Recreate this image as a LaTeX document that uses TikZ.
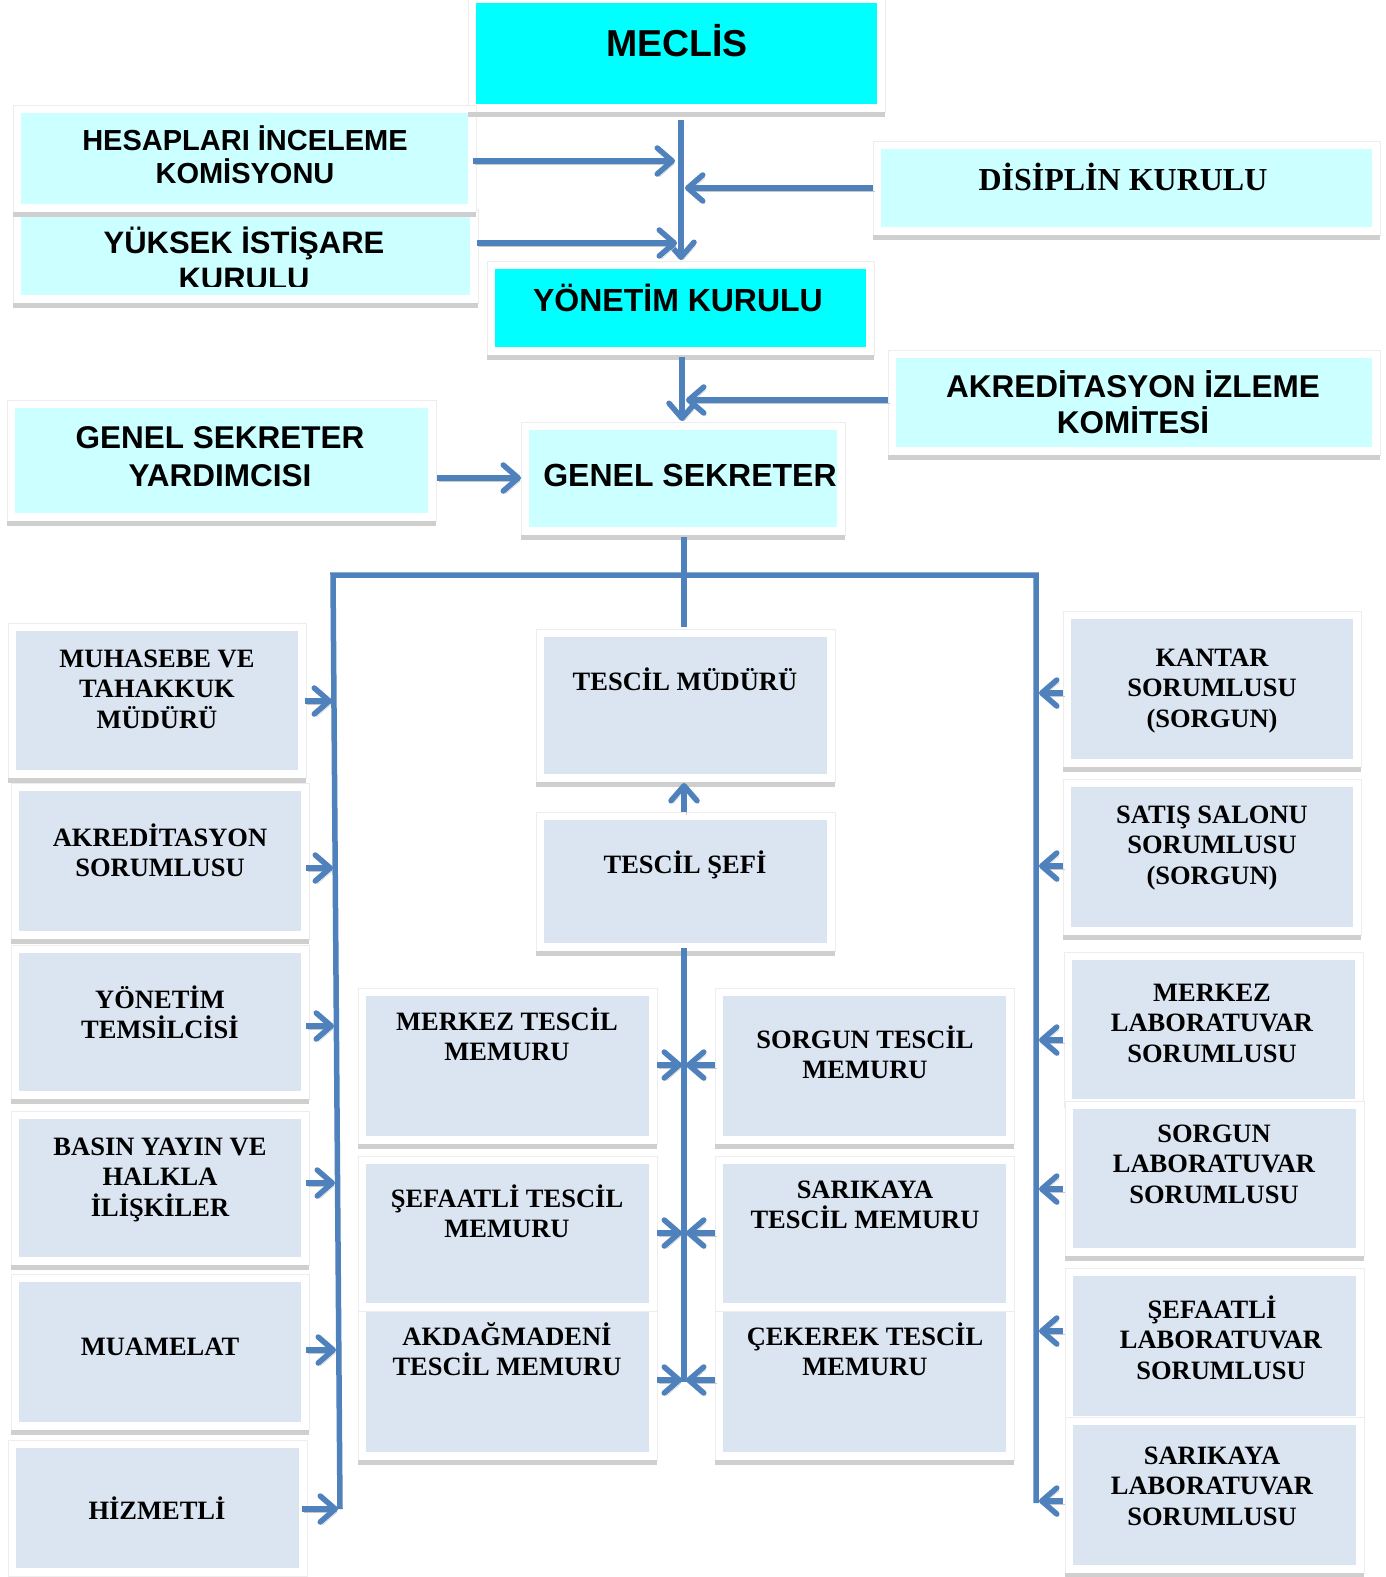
\documentclass[tikz,border=0pt]{standalone}
\usepackage{fontspec}
\setmainfont{Liberation Serif}
\newfontfamily\hsans{Liberation Sans}
\usetikzlibrary{arrows.meta,calc}
\definecolor{cyanb}{HTML}{00FFFF}
\definecolor{lcyan}{HTML}{CCFFFF}
\definecolor{lblue}{HTML}{DBE5F1}
\definecolor{lineblue}{HTML}{4F81BD}
\definecolor{shad}{HTML}{CFCFCF}
\definecolor{framec}{HTML}{EDEDED}
\pgfdeclarelayer{bg}
\pgfdeclarelayer{frames}
\pgfdeclarelayer{shadows}
\pgfsetlayers{bg,frames,shadows,main}
\newcommand{\tl}[1]{\vtop{\halign{\hfil##\hfil\cr#1\crcr}}}
% name, x1, y1, x2, y2, fill, shadow(1/0)
\newcommand{\obox}[7]{%
  \begin{pgfonlayer}{frames}
    \filldraw[draw=framec,fill=white,line width=1pt] (#2-8,#3-8) rectangle (#4+8,#5+8);
  \end{pgfonlayer}
  \ifnum#7=1
  \begin{pgfonlayer}{shadows}
    \fill[shad] (#2-8,#5+8) rectangle (#4+8,#5+13);
  \end{pgfonlayer}
  \fi
  \node[fill=#6,inner sep=0pt,outer sep=0pt,minimum width={(#4-#2)*1pt},minimum height={(#5-#3)*1pt}] (#1) at ({(#2+#4)/2},{(#3+#5)/2}) {};}
\tikzset{
  conn/.style={line width=5.5pt, draw=lineblue, -{Straight Barb[length=15pt,width=26pt,round]},
    preaction={draw=black!22, transform canvas={shift={(2pt,-3pt)}}}},
  trunk/.style={line width=5.5pt, draw=lineblue},
  stxt/.style n args={2}{anchor=base, inner sep=0pt, font=\hsans\bfseries\fontsize{#1}{#2}\selectfont},
  ttxt/.style={anchor=base, inner sep=0pt, font=\bfseries\fontsize{26.5}{30.5}\selectfont},
}
\begin{document}
\begin{tikzpicture}[x=1pt,y=-1pt]
\begin{pgfonlayer}{bg}
\fill[white] (0,0) rectangle (1386,1577);
\end{pgfonlayer}
\useasboundingbox (0,0) rectangle (1386,1577);

% ---------- top boxes
\obox{MEC}{476}{3}{877}{104}{cyanb}{1}
\obox{YUK}{21}{217}{470}{295}{lcyan}{1}
\obox{HES}{21}{113}{468}{204}{lcyan}{1}
\obox{DIS}{881}{149}{1372}{227}{lcyan}{1}
\obox{YK}{495}{269}{866}{347}{cyanb}{1}
\obox{AKI}{896}{358}{1372}{447}{lcyan}{1}
\obox{GSY}{15}{408}{428}{513}{lcyan}{1}
\obox{GS}{529}{430}{837}{527}{lcyan}{1}

\node[stxt={37.5}{40}] (MEC-t) at (677,56) {MECLİS};
\node[stxt={29}{33}] (HES-t) at (245,150) {\tl{HESAPLARI İNCELEME\cr KOMİSYONU}};
\begin{scope}
  \clip (21,217) rectangle (470,286);
  \node[stxt={31}{36}] (YUK-t) at (244,253) {\tl{YÜKSEK İSTİŞARE\cr KURULU}};
\end{scope}
\node[anchor=base,inner sep=0pt,font=\bfseries\fontsize{32}{36}\selectfont] (DIS-t) at (1123,190) {DİSİPLİN KURULU};
\node[stxt={32}{36}] (YK-t) at (678,311) {YÖNETİM KURULU};
\node[stxt={31.5}{36}] (AKI-t) at (1133,397) {\tl{AKREDİTASYON İZLEME\cr KOMİTESİ}};
\node[stxt={31.5}{38}] (GSY-t) at (220,448) {\tl{GENEL SEKRETER\cr YARDIMCISI}};
\node[stxt={32}{36}] (GS-t) at (690,486) {GENEL SEKRETER};

% ---------- left column
\obox{MUH}{16}{631}{298}{770}{lblue}{1}
\obox{AKS}{19}{791}{301}{931}{lblue}{1}
\obox{YTM}{19}{953}{301}{1091}{lblue}{1}
\obox{BAS}{19}{1119}{301}{1257}{lblue}{1}
\obox{MUA}{19}{1282}{301}{1422}{lblue}{1}
\obox{HIZ}{16}{1448}{299}{1568}{lblue}{0}

\node[ttxt] (MUH-t) at (157,667) {\tl{MUHASEBE VE\cr TAHAKKUK\cr MÜDÜRÜ}};
\node[ttxt] (AKS-t) at (160,846) {\tl{AKREDİTASYON\cr SORUMLUSU}};
\node[ttxt] (YTM-t) at (160,1008) {\tl{YÖNETİM\cr TEMSİLCİSİ}};
\node[ttxt] (BAS-t) at (160,1155) {\tl{BASIN YAYIN VE\cr HALKLA\cr İLİŞKİLER}};
\node[ttxt] (MUA-t) at (160,1355) {MUAMELAT};
\node[ttxt] (HIZ-t) at (157,1519) {HİZMETLİ};

% ---------- centre column
\obox{TMD}{544}{637}{827}{774}{lblue}{1}
\obox{TSF}{544}{820}{827}{943}{lblue}{1}
\obox{MTM}{366}{996}{649}{1136}{lblue}{1}
\obox{STM}{723}{996}{1006}{1136}{lblue}{1}
\obox{AKM}{366}{1312}{649}{1452}{lblue}{1}
\obox{CKM}{723}{1312}{1006}{1452}{lblue}{1}
\obox{SFM}{366}{1164}{649}{1303}{lblue}{0}
\obox{SRM}{723}{1164}{1006}{1303}{lblue}{0}

\node[ttxt] (TMD-t) at (685,690) {TESCİL MÜDÜRÜ};
\node[ttxt] (TSF-t) at (685,873) {TESCİL ŞEFİ};
\node[ttxt] (MTM-t) at (507,1030) {\tl{MERKEZ TESCİL\cr MEMURU}};
\node[ttxt] (STM-t) at (865,1048) {\tl{SORGUN TESCİL\cr MEMURU}};
\node[ttxt] (SFM-t) at (507,1207) {\tl{ŞEFAATLİ TESCİL\cr MEMURU}};
\node[ttxt] (SRM-t) at (865,1198) {\tl{SARIKAYA\cr TESCİL MEMURU}};
\node[ttxt] (AKM-t) at (507,1345) {\tl{AKDAĞMADENİ\cr TESCİL MEMURU}};
\node[ttxt] (CKM-t) at (865,1345) {\tl{ÇEKEREK TESCİL\cr MEMURU}};

% ---------- right column
\obox{KAN}{1071}{619}{1353}{759}{lblue}{1}
\obox{SAT}{1071}{787}{1353}{927}{lblue}{1}
\obox{MLB}{1072}{960}{1355}{1099}{lblue}{0}
\obox{SLB}{1073}{1109}{1356}{1248}{lblue}{1}
\obox{FLB}{1073}{1276}{1356}{1416}{lblue}{0}
\obox{RLB}{1073}{1425}{1356}{1565}{lblue}{1}

\node[ttxt] (KAN-t) at (1212,666) {\tl{KANTAR\cr SORUMLUSU\cr (SORGUN)}};
\node[ttxt] (SAT-t) at (1212,823) {\tl{SATIŞ SALONU\cr SORUMLUSU\cr (SORGUN)}};
\node[ttxt] (MLB-t) at (1212,1001) {\tl{MERKEZ\cr LABORATUVAR\cr SORUMLUSU}};
\node[ttxt] (SLB-t) at (1214,1142) {\tl{SORGUN\cr LABORATUVAR\cr SORUMLUSU}};
\node[ttxt] (FLB-t) at (1221,1318) {\tl{ŞEFAATLİ\kern18pt\cr LABORATUVAR\cr SORUMLUSU}};
\node[ttxt] (RLB-t) at (1212,1464) {\tl{SARIKAYA\cr LABORATUVAR\cr SORUMLUSU}};

% ---------- connectors, top part
\coordinate (vtop) at (681,120);
\coordinate (vtip) at (681,260);
\draw[conn] (vtop) -- (vtip);
\coordinate (hesTip) at (675,161);
\draw[conn] ($(HES.east |- hesTip)+(5,0)$) -- (hesTip);
\coordinate (disTip) at (685,188);
\draw[conn] ($(DIS.west |- disTip)+(-8,0)$) -- (disTip);
\coordinate (yukTip) at (677,243);
\draw[conn] ($(YUK.east |- yukTip)+(7,0)$) -- (yukTip);

\coordinate (ykg) at (682,421);
\draw[conn] ($(ykg |- YK.south)+(0,10)$) -- (ykg);
\coordinate (akiTip) at (686,400);
\draw[conn] ($(AKI.west |- akiTip)+(-8,0)$) -- (akiTip);
\coordinate (gsyTip) at (521,478);
\draw[conn] ($(GSY.east |- gsyTip)+(9,0)$) -- (gsyTip);

% ---------- bus
\coordinate (junc) at (684,575);
\draw[trunk] ($(junc |- GS.south)+(0,10)$) -- ($(junc |- TMD.north)+(0,-10)$);
\coordinate (busL) at (333,575);
\coordinate (busR) at (1036,575);
\coordinate (busLb) at (340,1509);
\coordinate (busRb) at (1036,1503);
\draw[trunk] (busLb) -- (busL) -- (busR) -- (busRb);

% left arrows
\coordinate (lt1) at (332,701);
\coordinate (lt2) at (333,868);
\coordinate (lt3) at (334,1026);
\coordinate (lt4) at (335,1183);
\coordinate (lt5) at (336,1350);
\coordinate (lt6) at (338,1509);
\draw[conn] ($(MUH.east |- lt1)+(7,0)$) -- (lt1);
\draw[conn] ($(AKS.east |- lt2)+(5,0)$) -- (lt2);
\draw[conn] ($(YTM.east |- lt3)+(5,0)$) -- (lt3);
\draw[conn] ($(BAS.east |- lt4)+(5,0)$) -- (lt4);
\draw[conn] ($(MUA.east |- lt5)+(5,0)$) -- (lt5);
\draw[conn] ($(HIZ.east |- lt6)+(3,0)$) -- (lt6);

% right arrows
\coordinate (rt1) at (1039,693);
\coordinate (rt2) at (1039,866);
\coordinate (rt3) at (1039,1040);
\coordinate (rt4) at (1039,1189);
\coordinate (rt5) at (1039,1331);
\coordinate (rt6) at (1039,1501);
\draw[conn] ($(KAN.west |- rt1)+(-8,0)$) -- (rt1);
\draw[conn] ($(SAT.west |- rt2)+(-8,0)$) -- (rt2);
\draw[conn] ($(MLB.west |- rt3)+(-9,0)$) -- (rt3);
\draw[conn] ($(SLB.west |- rt4)+(-10,0)$) -- (rt4);
\draw[conn] ($(FLB.west |- rt5)+(-10,0)$) -- (rt5);
\draw[conn] ($(RLB.west |- rt6)+(-10,0)$) -- (rt6);

% centre
\draw[conn] ($(junc |- TSF.north)+(0,-8)$) -- ($(junc |- TMD.south)+(0,9)$);
\coordinate (cbot) at (684,1382);
\draw[trunk] ($(junc |- TSF.south)+(0,5)$) -- (cbot);
\coordinate (cl1) at (682,1065);
\coordinate (cr1) at (686,1065);
\coordinate (cl2) at (682,1233);
\coordinate (cr2) at (686,1233);
\coordinate (cl3) at (682,1380);
\coordinate (cr3) at (686,1380);
\draw[conn] ($(MTM.east |- cl1)+(8,0)$) -- (cl1);
\draw[conn] ($(STM.west |- cr1)+(-8,0)$) -- (cr1);
\draw[conn] ($(SFM.east |- cl2)+(8,0)$) -- (cl2);
\draw[conn] ($(SRM.west |- cr2)+(-8,0)$) -- (cr2);
\draw[conn] ($(AKM.east |- cl3)+(8,0)$) -- (cl3);
\draw[conn] ($(CKM.west |- cr3)+(-8,0)$) -- (cr3);
\end{tikzpicture}
\end{document}
